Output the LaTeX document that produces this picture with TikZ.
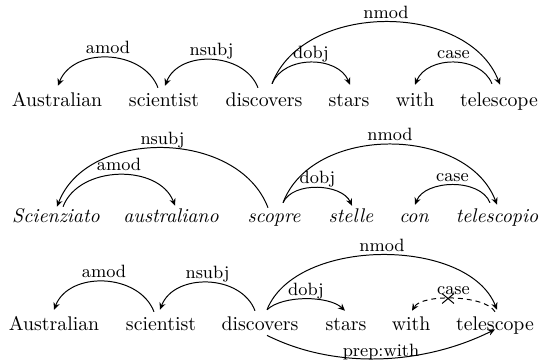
\documentclass[tikz,border=0pt]{standalone}
\usetikzlibrary{arrows.meta,shapes.misc}
\begin{document}
\begin{tikzpicture}[x=0.505pt,y=-0.505pt,
  word/.style={anchor=base, inner sep=0pt, text height=7pt, text depth=2pt, font=\fontsize{10}{12}\selectfont},
  iword/.style={word, font=\fontsize{10}{12}\selectfont\itshape},
  dep/.style={line width=0.5pt, -{Stealth[length=3.6pt,width=3.2pt]}},
  lab/.style={anchor=base, font=\fontsize{9}{10}\selectfont, inner sep=0pt, yshift=2pt},
  blab/.style={anchor=base, font=\fontsize{9}{10}\selectfont, inner sep=0pt, yshift=1pt},
  xmark/.style={cross out, draw, line width=0.5pt, minimum width=5.5pt, minimum height=4.5pt, inner sep=0pt}]
\useasboundingbox (0,0) rectangle (540,362);
% Row 1
\node[word] (a1) at (57,106) {Australian};
\node[word] (b1) at (164,106) {scientist};
\node[word] (c1) at (264,106) {discovers};
\node[word] (d1) at (349,106) {stars};
\node[word] (e1) at (415,106) {with};
\node[word] (f1) at (499,106) {telescope};
\draw[dep] ([shift={(-6,-4)}]b1.north) .. controls +(-15,-39) and +(15,-39) .. ([shift={(1,-6)}]a1.north) node[lab,pos=0.5]{amod};
\draw[dep] ([shift={(-6,-4)}]c1.north) .. controls +(-14,-36) and +(14,-36) .. ([shift={(1,-6)}]b1.north) node[lab,pos=0.5]{nsubj};
\draw[dep] ([shift={(8,-8)}]c1.north) .. controls +(32,-83) and +(-32,-83) .. ([shift={(1,-7)}]f1.north) node[lab,pos=0.5]{nmod};
\draw[dep] ([shift={(8,-8)}]c1.north) .. controls +(12,-29) and +(-12,-29) .. ([shift={(1,-7)}]d1.north) node[lab,pos=0.5]{dobj};
\draw[dep] ([shift={(-7,-8)}]f1.north) .. controls +(-12,-29) and +(12,-29) .. ([shift={(0,-7)}]e1.north) node[lab,pos=0.5]{case};
% Row 2
\node[iword] (a2) at (56,222) {Scienziato};
\node[iword] (b2) at (171,222) {australiano};
\node[iword] (c2) at (274,222) {scopre};
\node[iword] (d2) at (351,222) {stelle};
\node[iword] (e2) at (414,222) {con};
\node[iword] (f2) at (497,222) {telescopio};
\draw[dep] ([shift={(-6,0)}]c2.north) .. controls +(-30,-79) and +(30,-79) .. ([shift={(1,-1)}]a2.north) node[lab,pos=0.5]{nsubj};
\draw[dep] ([shift={(7,-1)}]a2.north) .. controls +(16,-42) and +(-16,-42) .. ([shift={(4,-2)}]b2.north) node[lab,pos=0.5]{amod};
\draw[dep] ([shift={(9,-5)}]c2.north) .. controls +(30,-79) and +(-30,-79) .. ([shift={(0,-3)}]f2.north) node[lab,pos=0.5]{nmod};
\draw[dep] ([shift={(9,-5)}]c2.north) .. controls +(10,-22) and +(-10,-22) .. ([shift={(1,-2)}]d2.north) node[lab,pos=0.5]{dobj};
\draw[dep] ([shift={(-7,-5)}]f2.north) .. controls +(-10,-25) and +(10,-25) .. ([shift={(1,-3)}]e2.north) node[lab,pos=0.5]{case};
% Row 3
\node[word] (a3) at (54,330) {Australian};
\node[word] (b3) at (161,330) {scientist};
\node[word] (c3) at (260,330) {discovers};
\node[word] (d3) at (346,330) {stars};
\node[word] (e3) at (411,330) {with};
\node[word] (f3) at (495,330) {telescope};
\draw[dep] ([shift={(-7,-4)}]b3.north) .. controls +(-15,-39) and +(15,-39) .. ([shift={(0,-6)}]a3.north) node[lab,pos=0.5]{amod};
\draw[dep] ([shift={(-5,-5)}]c3.north) .. controls +(-14,-37) and +(14,-37) .. ([shift={(-1,-6)}]b3.north) node[lab,pos=0.5]{nsubj};
\draw[dep] ([shift={(7,-6)}]c3.north) .. controls +(29,-73) and +(-29,-73) .. ([shift={(2,-6)}]f3.north) node[lab,pos=0.5]{nmod};
\draw[dep] ([shift={(7,-6)}]c3.north) .. controls +(16,-15) and +(-16,-15) .. ([shift={(-1,-5)}]d3.north) node[lab,pos=0.5]{dobj};
\draw[dep, dash pattern=on 2.5pt off 2pt] ([shift={(0,-4)}]f3.north) .. controls +(-10,-17) and +(10,-17) .. ([shift={(1,-5)}]e3.north) node[lab,pos=0.5]{case} node[xmark,pos=0.55,solid]{};
\draw[dep] ([shift={(7,1)}]c3.south) .. controls +(70,35) and +(-70,35) .. ([shift={(0,-5)}]f3.south) node[blab,pos=0.5]{prep:with};
\end{tikzpicture}
\end{document}
